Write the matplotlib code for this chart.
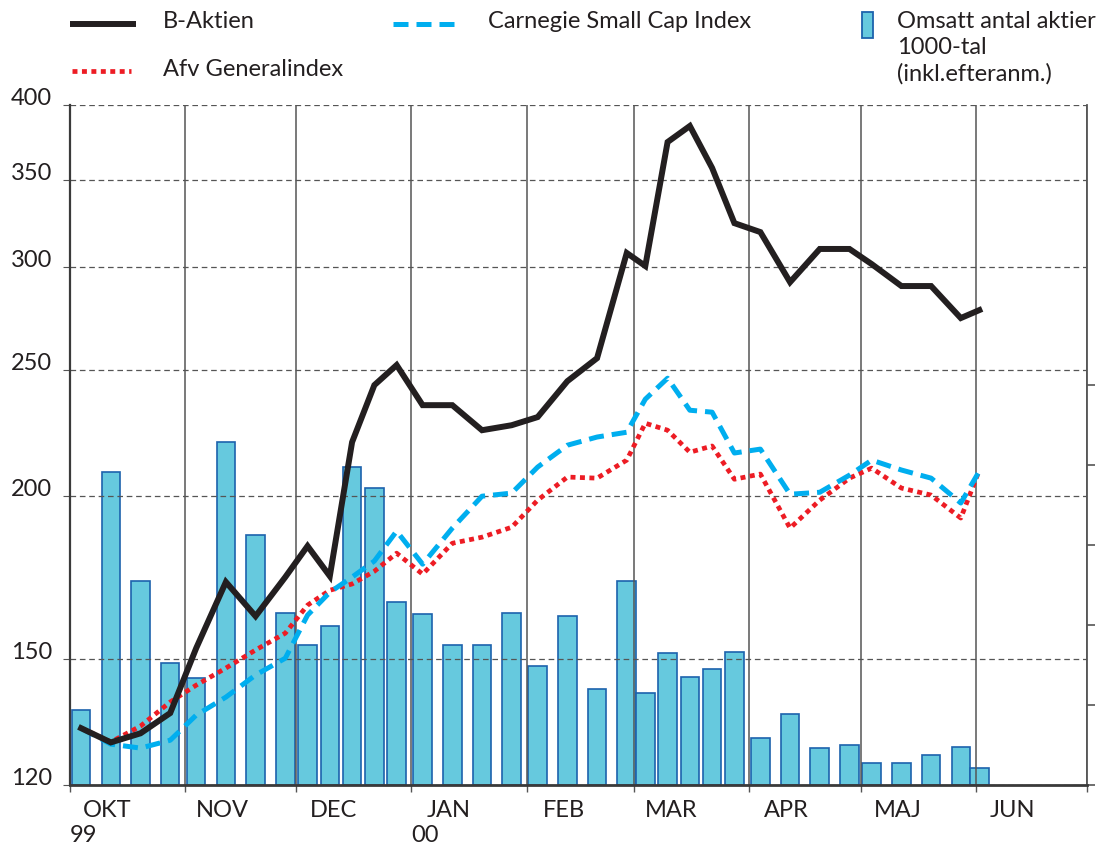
import matplotlib
matplotlib.use('Agg')
import matplotlib.pyplot as plt
import matplotlib.transforms as mtransforms
from matplotlib.lines import Line2D
from matplotlib.patches import Rectangle
from matplotlib.ticker import NullLocator, FixedLocator, FixedFormatter
import pandas as pd

# weekly observations
dates = pd.to_datetime([
    '1999-10-04', '1999-10-12', '1999-10-20', '1999-10-28',
    '1999-11-04', '1999-11-12', '1999-11-20', '1999-11-28',
    '1999-12-04', '1999-12-10', '1999-12-16', '1999-12-22', '1999-12-28',
    '2000-01-04', '2000-01-12', '2000-01-20', '2000-01-28',
    '2000-02-04', '2000-02-12', '2000-02-20', '2000-02-28',
    '2000-03-04', '2000-03-10', '2000-03-16', '2000-03-22', '2000-03-28',
    '2000-04-04', '2000-04-12', '2000-04-20', '2000-04-28',
    '2000-05-04', '2000-05-12', '2000-05-20', '2000-05-28',
    '2000-06-02'])

b_aktien = [132.7, 129.4, 131.5, 136.3, 152.9, 171.9, 161.8, 173.4, 183.2, 173.7,
            220.2, 243.6, 252.4, 235.1, 235.1, 224.9, 226.9, 230.2, 245.3, 255.5,
            307.8, 300.8, 374.6, 385.4, 357.8, 324.5, 319.4, 292.3, 310.0, 310.0,
            301.8, 290.3, 290.3, 274.3, 278.2]
carnegie = [132.7, 129.0, 128.1, 129.9, 135.8, 140.2, 145.8, 150.2, 162.1, 168.8,
            173.4, 178.4, 188.1, 177.4, 189.1, 200.1, 201.2, 210.7, 219.0, 222.2,
            224.1, 237.6, 246.6, 233.0, 232.2, 216.0, 217.5, 200.8, 201.5, 207.7,
            213.3, 209.6, 206.6, 197.7, 209.2]
generalindex = [132.7, 129.5, 133.2, 139.0, 143.2, 147.6, 152.4, 157.0, 165.0, 169.4,
                171.3, 175.2, 180.9, 174.3, 184.1, 186.1, 189.4, 198.7, 207.0, 206.6,
                213.3, 227.7, 224.9, 216.3, 218.7, 206.2, 208.1, 189.1, 198.7, 206.6,
                210.3, 203.0, 200.5, 192.5, 209.6]
volume = [94, 391, 255, 152, 134, 429, 312, 215, 175, 199, 398, 371, 229, 214, 175,
          175, 215, 149, 211, 120, 255, 115, 165, 135, 145, 166, 59, 89, 46, 50,
          28, 28, 38, 48, 21]

month_starts = pd.date_range('1999-10-01', '2000-07-01', freq='MS')
month_names = ['OKT', 'NOV', 'DEC', 'JAN', 'FEB', 'MAR', 'APR', 'MAJ', 'JUN']
year_marks = {'1999-10-01': '99', '2000-01-01': '00'}
y_ticks = [120, 150, 200, 250, 300, 350, 400]

BLACK = '#231f20'
BLUE = '#00aeef'
RED = '#ed1c24'
BAR_FACE = '#66c9de'
BAR_EDGE = '#1c62ad'
GRID = '#555555'

plt.rcParams['font.family'] = ['Lato', 'DejaVu Sans']
FS = 17

W, H = 1101, 846
fig = plt.figure(figsize=(W / 100, H / 100), dpi=100)
ax = fig.add_axes([70 / W, 61 / H, 1017 / W, 680 / H])
ax2 = ax.twinx()

# volume bars on the secondary axis, behind the lines
ax2.bar(dates, volume, width=5, color=BAR_FACE, edgecolor=BAR_EDGE, linewidth=1.2)
ax2.set_ylim(0, 850)
ax2.set_yticks([0, 100, 200, 300, 400, 500])
ax2.set_yticklabels([])
ax2.tick_params(axis='y', direction='out', length=6, width=1.2, color=GRID)
for s in ['top', 'left', 'bottom']:
    ax2.spines[s].set_visible(False)
ax2.spines['right'].set_color(GRID)
ax2.spines['right'].set_linewidth(1.3)

ax.set_zorder(ax2.get_zorder() + 1)
ax.patch.set_visible(False)

ax.plot(dates, generalindex, color=RED, lw=3.4, dashes=(1.05, 0.95),
        dash_capstyle='butt', zorder=3)
ax.plot(dates, carnegie, color=BLUE, lw=3.6, dashes=(3.0, 1.6),
        dash_capstyle='butt', zorder=4)
ax.plot(dates, b_aktien, color=BLACK, lw=4.3, solid_joinstyle='miter', zorder=5)

ax.set_yscale('log')
ax.set_ylim(120, 400)
ax.yaxis.set_major_locator(FixedLocator(y_ticks))
ax.yaxis.set_major_formatter(FixedFormatter([str(v) for v in y_ticks]))
ax.yaxis.set_minor_locator(NullLocator())
ax.tick_params(axis='y', direction='out', length=5, width=0.8, color=GRID,
               pad=8, labelsize=FS, labelcolor=BLACK)
for lbl in ax.get_yticklabels():
    lbl.set_verticalalignment('baseline')

ax.set_xlim(month_starts[0], month_starts[-1])
ax.set_xticks(month_starts)
ax.set_xticklabels([])
ax.xaxis.set_minor_locator(NullLocator())
ax.tick_params(axis='x', direction='out', length=5, width=1, color=GRID)

ax.yaxis.grid(True, linestyle=(0, (4.5, 3)), color=GRID, lw=0.9)
ax.xaxis.grid(True, linestyle='-', color=GRID, lw=1.1)
ax.set_axisbelow(True)

ax.spines['top'].set_visible(False)
ax.spines['right'].set_visible(False)
ax.spines['left'].set_color('#3a3a3a')
ax.spines['left'].set_linewidth(1.6)
ax.spines['bottom'].set_color('#3a3a3a')
ax.spines['bottom'].set_linewidth(2.0)

# month and year labels below the axis
trans = mtransforms.blended_transform_factory(ax.transData, ax.transAxes)
for start, name in zip(month_starts[:-1], month_names):
    ax.text(start + pd.Timedelta(days=10), -0.038, name, transform=trans,
            ha='center', va='center', fontsize=FS, color=BLACK)
for d, yr in year_marks.items():
    ax.text(pd.Timestamp(d), -0.074, yr, transform=trans,
            ha='left', va='center', fontsize=FS, color=BLACK)

# legend drawn by hand at the top
def fx(x):
    return x / W

def fy(y):
    return 1 - y / H

fig.add_artist(Line2D([fx(70), fx(136)], [fy(24), fy(24)], color=BLACK, lw=4.3,
                      solid_capstyle='butt'))
fig.add_artist(Line2D([fx(393), fx(456)], [fy(24), fy(24)], color=BLUE, lw=3.6,
                      dashes=(3.0, 1.6), dash_capstyle='butt'))
fig.add_artist(Line2D([fx(72), fx(131)], [fy(71), fy(71)], color=RED, lw=3.4,
                      dashes=(1.05, 0.95), dash_capstyle='butt'))
fig.add_artist(Rectangle((fx(862), fy(38)), fx(11), 26 / H, facecolor=BAR_FACE,
                         edgecolor=BAR_EDGE, lw=1.3, transform=fig.transFigure))

fig.text(fx(163), fy(22), 'B-Aktien', ha='left', va='center', fontsize=FS, color=BLACK)
fig.text(fx(488), fy(22), 'Carnegie Small Cap Index', ha='left', va='center',
         fontsize=FS, color=BLACK)
fig.text(fx(163), fy(70), 'Afv Generalindex', ha='left', va='center', fontsize=FS,
         color=BLACK)
fig.text(fx(897), fy(22), 'Omsatt antal aktier', ha='left', va='center', fontsize=FS,
         color=BLACK)
fig.text(fx(897), fy(48), '1000-tal', ha='left', va='center', fontsize=FS, color=BLACK)
fig.text(fx(897), fy(74), '(inkl.efteranm.)', ha='left', va='center', fontsize=FS,
         color=BLACK)

fig.savefig('out.png', dpi=100)
